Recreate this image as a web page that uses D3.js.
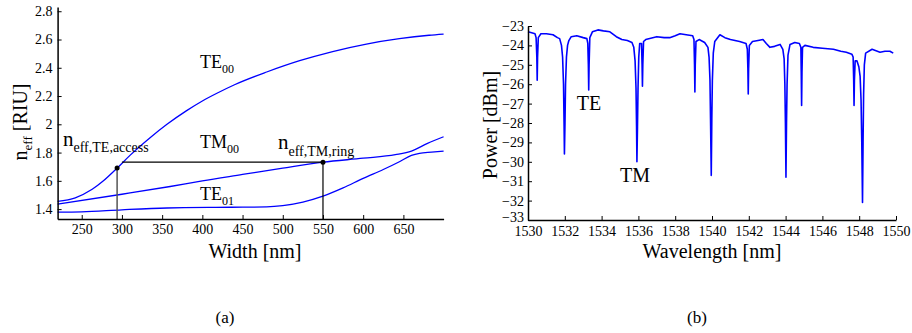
<!DOCTYPE html>
<html>
<head>
<meta charset="utf-8">
<script src="https://cdn.jsdelivr.net/npm/d3@7"></script>
<style>
  body { margin: 0; background: #fff; }
  svg, svg text { font-family: "Liberation Serif", Tinos, "Times New Roman", Times, "DejaVu Serif", serif; }
</style>
</head>
<body>
<svg id="chart" width="912" height="333"></svg>
<script>
// (a) effective index vs waveguide width
const widthTicks = [250, 300, 350, 400, 450, 500, 550, 600, 650];
const nTicks = [1.4, 1.6, 1.8, 2, 2.2, 2.4, 2.6, 2.8];
const te00 = [[220, 1.455], [242, 1.48], [263, 1.54], [277, 1.60], [294, 1.69], [310, 1.78], [335, 1.905],
  [356, 2.0], [380, 2.095], [400, 2.165], [420, 2.225], [440, 2.28], [480, 2.37], [521, 2.45],
  [562, 2.515], [604, 2.568], [645, 2.606], [682, 2.63], [700, 2.638]];
const tm00 = [[220, 1.435], [300, 1.505], [360, 1.56], [400, 1.60], [450, 1.645], [500, 1.69], [550, 1.732],
  [600, 1.76], [640, 1.785], [660, 1.81], [680, 1.865], [700, 1.912]];
const te01 = [[220, 1.378], [250, 1.38], [300, 1.395], [356, 1.408], [436, 1.413], [480, 1.416], [500, 1.425],
  [525, 1.45], [550, 1.492], [575, 1.55], [600, 1.618], [625, 1.68], [645, 1.735], [660, 1.78],
  [670, 1.795], [685, 1.803], [700, 1.81]];
const accessPoint = [294, 1.69];
const ringPoint = [550, 1.732];
const matchStart = 300;

// (b) transmission spectrum
const waveTicks = [1530, 1532, 1534, 1536, 1538, 1540, 1542, 1544, 1546, 1548, 1550];
const powerTicks = [-33, -32, -31, -30, -29, -28, -27, -26, -25, -24, -23];
const spectrum = [
  [1530.0, -23.3], [1530.2, -23.35], [1530.38, -23.4],
  [1530.44, -23.6], [1530.48, -24.6], [1530.5, -25.8], [1530.52, -24.6], [1530.56, -23.6],
  [1530.7, -23.4], [1531.0, -23.4], [1531.36, -23.45], [1531.6, -23.6], [1531.72, -23.65],
  [1531.82, -24.0], [1531.88, -24.6], [1531.93, -26.0], [1531.96, -28.0], [1531.98, -29.6],
  [1532.01, -28.0], [1532.04, -26.0], [1532.09, -24.6], [1532.15, -24.0], [1532.22, -23.75],
  [1532.35, -23.55], [1532.65, -23.5], [1533.0, -23.6], [1533.2, -23.65],
  [1533.25, -23.9], [1533.28, -25.0], [1533.3, -26.3], [1533.32, -25.0], [1533.36, -23.6],
  [1533.5, -23.3], [1533.8, -23.2], [1534.1, -23.25], [1534.45, -23.3], [1534.8, -23.55],
  [1535.1, -23.7], [1535.4, -23.75], [1535.65, -23.85],
  [1535.75, -24.1], [1535.82, -24.8], [1535.87, -26.2], [1535.9, -28.2], [1535.92, -30.0],
  [1535.95, -28.2], [1535.98, -26.2], [1536.02, -24.6], [1536.07, -23.9],
  [1536.17, -23.9], [1536.2, -25.0], [1536.22, -26.1], [1536.24, -25.0], [1536.28, -23.8],
  [1536.4, -23.7], [1537.0, -23.55], [1537.4, -23.6], [1537.7, -23.6], [1538.0, -23.5],
  [1538.26, -23.4], [1538.6, -23.45], [1538.95, -23.5],
  [1539.02, -23.7], [1539.05, -25.0], [1539.07, -26.4], [1539.09, -25.0], [1539.13, -23.8],
  [1539.3, -23.7], [1539.6, -23.85], [1539.78, -24.1],
  [1539.84, -24.6], [1539.89, -25.8], [1539.92, -27.8], [1539.96, -30.7], [1539.99, -27.8],
  [1540.02, -25.8], [1540.07, -24.4], [1540.15, -23.8],
  [1540.43, -23.45], [1540.7, -23.6], [1541.0, -23.7], [1541.5, -23.8], [1541.85, -23.9],
  [1541.92, -24.2], [1541.95, -25.2], [1541.97, -26.5], [1541.99, -25.2], [1542.03, -24.0],
  [1542.2, -23.8], [1542.5, -23.75], [1542.77, -23.7], [1542.95, -23.9], [1543.15, -24.1],
  [1543.4, -24.05], [1543.7, -23.95], [1543.85, -24.2],
  [1543.92, -24.7], [1543.96, -26.0], [1543.99, -28.0], [1544.02, -30.8], [1544.05, -28.0],
  [1544.08, -26.0], [1544.13, -24.5], [1544.24, -23.95],
  [1544.5, -23.85], [1544.75, -23.9],
  [1544.83, -24.1], [1544.85, -25.4], [1544.87, -27.1], [1544.89, -25.4], [1544.92, -24.1],
  [1545.05, -24.0], [1545.5, -24.1], [1546.0, -24.15], [1546.6, -24.2], [1547.0, -24.3],
  [1547.3, -24.35], [1547.6, -24.45],
  [1547.67, -24.6], [1547.7, -25.8], [1547.72, -27.1], [1547.74, -25.8], [1547.78, -24.8],
  [1547.88, -24.8], [1547.98, -25.1],
  [1548.05, -25.6], [1548.1, -26.8], [1548.14, -29.0], [1548.18, -32.1], [1548.21, -29.0],
  [1548.24, -26.5], [1548.28, -25.0], [1548.35, -24.4],
  [1548.7, -24.2], [1549.13, -24.35], [1549.4, -24.3], [1549.67, -24.3], [1549.85, -24.4]
];

const serif = '"Liberation Serif", Tinos, "Times New Roman", Times, "DejaVu Serif", serif';
const svg = d3.select("#chart").attr("font-family", serif);
svg.append("rect").attr("width", 912).attr("height", 333).attr("fill", "#fff");

const blue = "#0000ff";

// text with a subscript part
function subLabel(g, x, y, main, sub, size, subSize, dy) {
  const t = g.append("text").attr("x", x).attr("y", y).attr("font-size", size)
    .attr("font-family", serif).attr("fill", "#000");
  t.append("tspan").text(main);
  t.append("tspan").attr("font-size", subSize).attr("dy", dy).text(sub);
  return t;
}

function styleAxis(g) {
  g.attr("font-family", serif);
  g.selectAll(".domain").attr("stroke", "#000").attr("stroke-width", 1.5);
  g.selectAll(".tick line").attr("stroke", "#000").attr("stroke-width", 1);
  g.selectAll(".tick text").attr("font-size", 14).attr("font-family", serif).attr("fill", "#000");
}

// ---------- panel (a) ----------
const xA = d3.scaleLinear().domain([220, 700]).range([57.6, 443.6]);
const yA = d3.scaleLinear().domain([1.33, 2.83]).range([219, 7]);
const gA = svg.append("g");

const lineA = d3.line().x(d => xA(d[0])).y(d => yA(d[1])).curve(d3.curveMonotoneX);

[te00, tm00, te01].forEach(s => {
  gA.append("path")
    .datum(s)
    .attr("d", lineA)
    .attr("fill", "none")
    .attr("stroke", blue)
    .attr("stroke-width", 1.3);
});

// guide lines to the matched indices
gA.append("line")
  .attr("x1", xA(matchStart)).attr("x2", xA(ringPoint[0]))
  .attr("y1", yA(ringPoint[1])).attr("y2", yA(ringPoint[1]))
  .attr("stroke", "#000").attr("stroke-width", 1.2);
gA.append("line")
  .attr("x1", xA(accessPoint[0])).attr("x2", xA(accessPoint[0]))
  .attr("y1", yA(accessPoint[1])).attr("y2", yA(1.33))
  .attr("stroke", "#555").attr("stroke-width", 1.5);
gA.append("line")
  .attr("x1", xA(ringPoint[0])).attr("x2", xA(ringPoint[0]))
  .attr("y1", yA(ringPoint[1])).attr("y2", yA(1.33))
  .attr("stroke", "#000").attr("stroke-width", 1.2);
[accessPoint, ringPoint].forEach(p => {
  gA.append("circle").attr("cx", xA(p[0])).attr("cy", yA(p[1])).attr("r", 2.5).attr("fill", "#000");
});

const axA_x = gA.append("g")
  .attr("transform", "translate(0," + yA(1.33) + ")")
  .call(d3.axisBottom(xA).tickValues(widthTicks).tickSizeInner(-4).tickSizeOuter(0).tickPadding(5));
styleAxis(axA_x);
const axA_y = gA.append("g")
  .attr("transform", "translate(" + xA(220) + ",0)")
  .call(d3.axisLeft(yA).tickValues(nTicks).tickFormat(d => String(d)).tickSizeInner(-4).tickSizeOuter(0).tickPadding(5));
styleAxis(axA_y);

subLabel(gA, 200, 68, "TE", "00", 18, 12, 5);
subLabel(gA, 200, 148, "TM", "00", 18, 12, 5);
subLabel(gA, 200, 200, "TE", "01", 18, 12, 5);
subLabel(gA, 63, 146, "n", "eff,TE,access", 21, 14, 6);
subLabel(gA, 278, 149, "n", "eff,TM,ring", 21, 14, 7);

// axis titles
const ylabA = gA.append("text")
  .attr("transform", "translate(27,122) rotate(-90)")
  .attr("text-anchor", "middle")
  .attr("font-family", serif)
  .attr("font-size", 20);
ylabA.append("tspan").text("n");
ylabA.append("tspan").attr("font-size", 13).attr("dy", 5).text("eff");
ylabA.append("tspan").attr("dy", -5).text(" [RIU]");

gA.append("text").attr("x", 255).attr("y", 258).attr("text-anchor", "middle")
  .attr("font-family", serif).attr("font-size", 20).text("Width [nm]");
gA.append("text").attr("x", 225).attr("y", 323).attr("text-anchor", "middle")
  .attr("font-family", serif).attr("font-size", 17).text("(a)");

// ---------- panel (b) ----------
const xB = d3.scaleLinear().domain([1530, 1550]).range([528, 896]);
const yB = d3.scaleLinear().domain([-33, -23]).range([220, 26]);
const gB = svg.append("g");

gB.append("path")
  .datum(spectrum)
  .attr("d", d3.line().x(d => xB(d[0])).y(d => yB(d[1])))
  .attr("fill", "none")
  .attr("stroke", blue)
  .attr("stroke-width", 1.6)
  .attr("stroke-linejoin", "round");

const axB_x = gB.append("g")
  .attr("transform", "translate(0," + yB(-33) + ")")
  .call(d3.axisBottom(xB).tickValues(waveTicks).tickFormat(d3.format("d")).tickSizeInner(-4).tickSizeOuter(0).tickPadding(6));
styleAxis(axB_x);
const axB_y = gB.append("g")
  .attr("transform", "translate(" + xB(1530) + ",0)")
  .call(d3.axisLeft(yB).tickValues(powerTicks).tickFormat(d3.format("d")).tickSizeInner(-4).tickSizeOuter(0).tickPadding(4));
styleAxis(axB_y);
axB_y.selectAll(".tick text").filter(d => d === -33).attr("dy", "0.1em");

gB.append("text").attr("x", 589).attr("y", 110).attr("text-anchor", "middle")
  .attr("font-family", serif).attr("font-size", 20).text("TE");
gB.append("text").attr("x", 635).attr("y", 182).attr("text-anchor", "middle")
  .attr("font-family", serif).attr("font-size", 20).text("TM");

gB.append("text")
  .attr("transform", "translate(497,125) rotate(-90)")
  .attr("text-anchor", "middle")
  .attr("font-family", serif)
  .attr("font-size", 20)
  .text("Power [dBm]");
gB.append("text").attr("x", 712).attr("y", 258).attr("text-anchor", "middle")
  .attr("font-family", serif).attr("font-size", 20).text("Wavelength [nm]");
gB.append("text").attr("x", 697).attr("y", 323).attr("text-anchor", "middle")
  .attr("font-family", serif).attr("font-size", 17).text("(b)");
</script>
</body>
</html>
